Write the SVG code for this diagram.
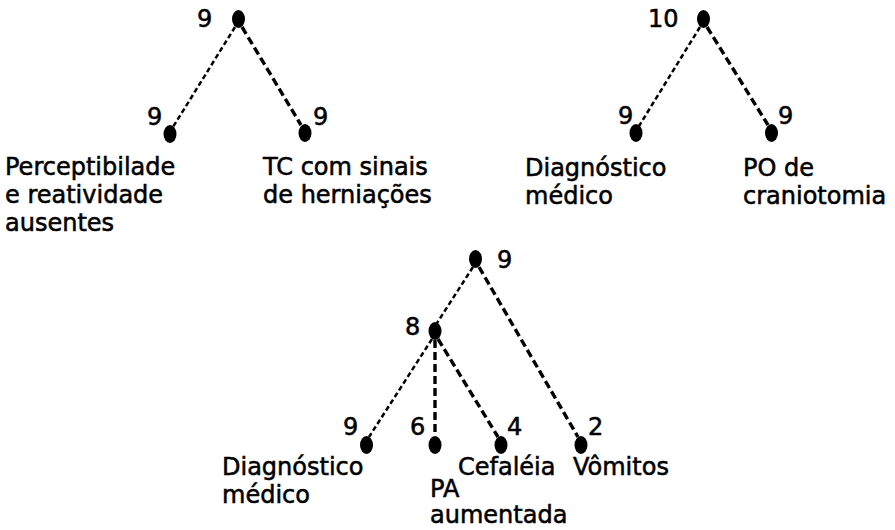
<svg xmlns="http://www.w3.org/2000/svg" width="895" height="530" viewBox="0 0 895 530">
<style>
text{font-family:"DejaVu Sans","Liberation Sans",sans-serif;font-size:24px;fill:#000;stroke:#000;stroke-width:0.55}
.dot{fill:#000}
.fine{stroke:#000;stroke-width:2.5;stroke-dasharray:5 3;fill:none}
.long{stroke:#000;stroke-width:3.4;stroke-dasharray:8 4;fill:none}
</style>
<rect width="895" height="530" fill="#fff"/>
<g id="connectors">
<line class="fine" x1="235" y1="27" x2="173" y2="127"/>
<line class="long" x1="242" y1="27" x2="301" y2="125"/>
<line class="fine" x1="700" y1="27" x2="639" y2="126"/>
<line class="long" x1="707" y1="27" x2="768" y2="125"/>
<line class="fine" x1="473" y1="267" x2="437" y2="323"/>
<line class="long" x1="479" y1="267" x2="578" y2="437"/>
<line class="fine" x1="432" y1="339" x2="369" y2="437"/>
<line class="long" x1="435" y1="340" x2="435" y2="436"/>
<line class="long" x1="438" y1="339" x2="498" y2="437"/>
</g>
<g id="t1-root"><ellipse class="dot" cx="238.5" cy="19" rx="6.5" ry="9"/><text x="197" y="27">9</text></g>
<g id="t1-left"><ellipse class="dot" cx="170" cy="134" rx="6.5" ry="9"/><text x="147" y="125">9</text>
<text x="5" y="175">Perceptibilade</text><text x="5" y="203">e reatividade</text><text x="5" y="231">ausentes</text></g>
<g id="t1-right"><ellipse class="dot" cx="305" cy="133" rx="6.5" ry="9"/><text x="313" y="125">9</text>
<text x="263" y="175">TC com sinais</text><text x="263" y="203">de herniações</text></g>
<g id="t2-root"><ellipse class="dot" cx="703.5" cy="19" rx="6.5" ry="9"/><text x="648" y="27">10</text></g>
<g id="t2-left"><ellipse class="dot" cx="636" cy="133" rx="6.5" ry="9"/><text x="618" y="124">9</text>
<text x="525" y="176">Diagnóstico</text><text x="525" y="204">médico</text></g>
<g id="t2-right"><ellipse class="dot" cx="771.5" cy="133" rx="6.5" ry="9"/><text x="778" y="124">9</text>
<text x="743" y="176">PO de</text><text x="743" y="204">craniotomia</text></g>
<g id="t3-root"><ellipse class="dot" cx="475.5" cy="259" rx="6.5" ry="9"/><text x="497" y="268">9</text></g>
<g id="t3-mid"><ellipse class="dot" cx="435" cy="331" rx="6.5" ry="9"/><text x="405" y="335">8</text></g>
<g id="t3-leaf1"><ellipse class="dot" cx="366.5" cy="445" rx="6.5" ry="9"/><text x="343" y="435">9</text>
<text x="222" y="475">Diagnóstico</text><text x="222" y="503">médico</text></g>
<g id="t3-leaf2"><ellipse class="dot" cx="435" cy="445" rx="6.5" ry="9"/><text x="410" y="435">6</text>
<text x="430" y="497">PA</text><text x="430" y="523">aumentada</text></g>
<g id="t3-leaf3"><ellipse class="dot" cx="501" cy="445" rx="6.5" ry="9"/><text x="507" y="435">4</text>
<text x="458" y="475">Cefaléia</text></g>
<g id="t3-leaf4"><ellipse class="dot" cx="581" cy="445" rx="6.5" ry="9"/><text x="588" y="435">2</text>
<text x="573" y="475">Vômitos</text></g>
</svg>
